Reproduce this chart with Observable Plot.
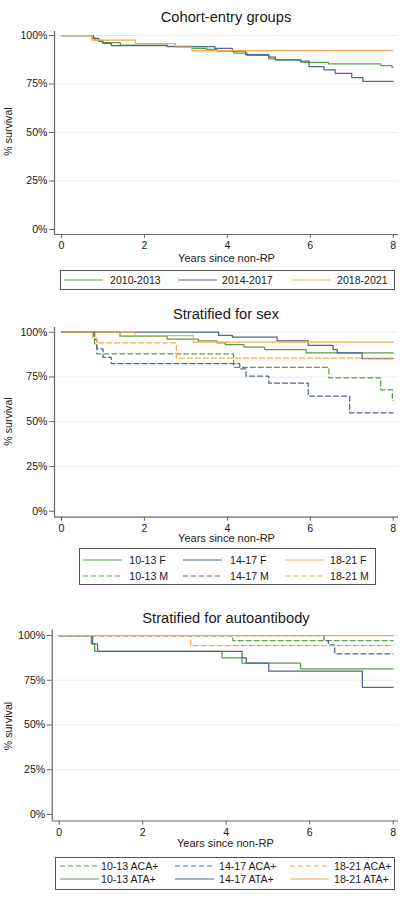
<!DOCTYPE html>
<html>
<head>
<meta charset="utf-8">
<script src="https://cdn.jsdelivr.net/npm/d3@7"></script>
<script src="https://cdn.jsdelivr.net/npm/@observablehq/plot@0.6"></script>
<style>
  html, body { margin: 0; padding: 0; background: #fff; }
  #root { position: relative; width: 412px; height: 901px; overflow: hidden; font-family: "Liberation Sans", Arial, sans-serif; color: #1a1a1a; }
  .title { position: absolute; left: 40px; width: 372px; text-align: center; font-size: 14.7px; line-height: 17px; white-space: nowrap; }
  .legbox { position: absolute; border: 1px solid #555; box-sizing: border-box; }
  .legtxt { position: absolute; font-size: 10.6px; line-height: 12px; white-space: nowrap; }
  .legsvg { position: absolute; overflow: visible; }
  svg.plot { position: absolute; left: 0; }
</style>
</head>
<body>
<div id="root"></div>
<script>
// ---------- Data ----------
const titles = ["Cohort-entry groups", "Stratified for sex", "Stratified for autoantibody"];
const xTicks = [0, 2, 4, 6, 8];
const yTicks = [0, 25, 50, 75, 100];
const xTitle = "Years since non-RP";
const yTitle = "% survival";

// Panel 1: cohort-entry groups
const cohortLabels = ["2010-2013", "2014-2017", "2018-2021"];
const c1013T = [0, 0.74, 0.8, 1.0, 1.42, 2.55, 3.15, 3.5, 3.75, 4.16, 4.48, 5.0, 5.16, 5.77, 6.44, 7.7, 7.97, 8];
const c1013S = [100, 98.8, 97.5, 96.3, 95.0, 94.4, 93.4, 92.8, 91.9, 90.9, 89.7, 88.0, 87.5, 86.2, 85.4, 84.5, 83.7, 83.7];
const c1417T = [0, 0.77, 0.9, 1.0, 1.2, 2.55, 3.7, 4.12, 4.44, 5.0, 5.16, 5.77, 5.97, 6.33, 6.6, 7.0, 7.27, 8];
const c1417S = [100, 98.5, 97.0, 96.0, 94.8, 94.3, 93.3, 91.9, 90.2, 88.8, 87.5, 86.8, 84.0, 82.3, 80.5, 78.3, 76.4, 76.4];
const c1821T = [0, 0.74, 1.78, 2.75, 3.15, 8];
const c1821S = [100, 97.6, 95.8, 94.0, 92.2, 92.2];

// Panel 2: stratified for sex
const sexLabels = ["10-13 F", "14-17 F", "18-21 F", "10-13 M", "14-17 M", "18-21 M"];
const f1013T = [0, 1.41, 2.55, 3.3, 3.75, 3.95, 4.4, 4.9, 5.9, 8];
const f1013S = [100, 97.8, 96.2, 95.2, 94.0, 93.0, 91.6, 90.3, 88.4, 88.4];
const f1417T = [0, 3.79, 4.12, 5.2, 5.95, 6.55, 6.65, 7.25, 8];
const f1417S = [100, 98.2, 97.2, 95.2, 92.6, 90.3, 88.4, 85.3, 85.3];
const f1821T = [0, 1.77, 3.18, 8];
const f1821S = [100, 98.1, 94.4, 94.4];
const m1013T = [0, 0.8, 0.85, 4.15, 6.45, 7.7, 7.98, 8];
const m1013S = [100, 93, 87.9, 80.4, 74.5, 67.8, 61.8, 61.8];
const m1417T = [0, 0.78, 0.85, 1.0, 1.2, 4.3, 4.45, 5.0, 5.95, 6.95, 8];
const m1417S = [100, 96, 90.7, 86, 82.4, 79.5, 75.5, 71.5, 64.3, 55.0, 55.0];
const m1821T = [0, 0.75, 0.85, 2.77, 8];
const m1821S = [100, 96.5, 94, 85.5, 85.5];

// Panel 3: stratified for autoantibody
const abLabels = ["10-13 ACA+", "14-17 ACA+", "18-21 ACA+", "10-13 ATA+", "14-17 ATA+", "18-21 ATA+"];
const aca1013T = [0, 4.16, 8];
const aca1013S = [100, 97.2, 97.2];
const aca1417T = [0, 6.34, 6.45, 6.6, 8];
const aca1417S = [100, 97.2, 94.8, 89.8, 89.8];
const aca1821T = [0, 3.15, 8];
const aca1821S = [100, 94.4, 94.4];
const ata1013T = [0, 0.77, 0.85, 3.9, 4.38, 5.78, 8];
const ata1013S = [100, 95.3, 91.1, 87.5, 84.5, 81.4, 81.4];
const ata1417T = [0, 0.8, 0.92, 4.38, 4.48, 5.02, 7.26, 8];
const ata1417S = [100, 95.3, 91.1, 87.5, 84.5, 80.1, 71.0, 71.0];
const ata1821T = [0, 8];
const ata1821S = [100, 100];

// ---------- Styling ----------
const GREEN = "#5a9e4e", BLUE = "#4e6986", ORANGE = "#efac52";
const DASH = "5,3";
const FONT = '"Liberation Sans", Arial, sans-serif';
const AXIS = "#666";

const rows = (T, S) => T.map((t, i) => ({t, s: S[i]}));

const panels = [
  {
    title: titles[0], titleY: 17,
    geo: {svgTop: 25, h: 240, x0: 61, x8: 392.7, y100: 35, y0: 229, left: 54, right: 398, bottom: 234, top: 31, xLabelY: 258, yLabelY: 131},
    series: [
      {label: cohortLabels[0], T: c1013T, S: c1013S, color: GREEN, dash: null},
      {label: cohortLabels[1], T: c1417T, S: c1417S, color: BLUE, dash: null},
      {label: cohortLabels[2], T: c1821T, S: c1821S, color: ORANGE, dash: null}
    ],
    legend: {box: [60, 270, 335, 20], cols: [[64, 110], [178, 222], [292, 337]], rowsY: [280], order: [[0,0],[1,0],[2,0]]}
  },
  {
    title: titles[1], titleY: 314,
    geo: {svgTop: 322, h: 222, x0: 61, x8: 392.7, y100: 331.7, y0: 510.7, left: 54, right: 398, bottom: 516.7, top: 327, xLabelY: 538.3, yLabelY: 421},
    series: [
      {label: sexLabels[0], T: f1013T, S: f1013S, color: GREEN, dash: null},
      {label: sexLabels[1], T: f1417T, S: f1417S, color: BLUE, dash: null},
      {label: sexLabels[2], T: f1821T, S: f1821S, color: ORANGE, dash: null},
      {label: sexLabels[3], T: m1013T, S: m1013S, color: GREEN, dash: DASH},
      {label: sexLabels[4], T: m1417T, S: m1417S, color: BLUE, dash: DASH},
      {label: sexLabels[5], T: m1821T, S: m1821S, color: ORANGE, dash: DASH}
    ],
    legend: {box: [79, 548, 297, 37], cols: [[83.3, 129.3], [183.3, 230], [285, 330]], rowsY: [560, 576], order: [[0,0],[1,0],[2,0],[0,1],[1,1],[2,1]]}
  },
  {
    title: titles[2], titleY: 618,
    geo: {svgTop: 626, h: 226, x0: 58.7, x8: 392.7, y100: 635, y0: 814, left: 51.7, right: 398, bottom: 820.5, top: 629.5, xLabelY: 842.7, yLabelY: 725.5},
    series: [
      {label: abLabels[0], T: aca1013T, S: aca1013S, color: GREEN, dash: DASH},
      {label: abLabels[1], T: aca1417T, S: aca1417S, color: BLUE, dash: DASH},
      {label: abLabels[2], T: aca1821T, S: aca1821S, color: ORANGE, dash: DASH},
      {label: abLabels[3], T: ata1013T, S: ata1013S, color: GREEN, dash: null},
      {label: abLabels[4], T: ata1417T, S: ata1417S, color: BLUE, dash: null},
      {label: abLabels[5], T: ata1821T, S: ata1821S, color: ORANGE, dash: null}
    ],
    legend: {box: [55, 857, 340, 33], cols: [[60, 101], [175, 219], [290, 334]], rowsY: [865.7, 879.3], order: [[0,0],[1,0],[2,0],[0,1],[1,1],[2,1]]}
  }
];

const root = document.getElementById("root");

for (const p of panels) {
  // Title
  const t = document.createElement("div");
  t.className = "title";
  t.style.top = (p.titleY - 8.5) + "px";
  t.textContent = p.title;
  root.appendChild(t);

  // Plot
  const g = p.geo;
  const pxX = (g.x8 - g.x0) / 8, pxY = (g.y0 - g.y100) / 100;
  const xmin = (g.left - g.x0) / pxX, xmax = (g.right - g.x0) / pxX;
  const ymin = -(g.bottom - g.y0) / pxY, ymax = (g.y0 - g.top) / pxY;
  const frameMidY = (g.top + g.bottom) / 2;

  const lineMarks = p.series.map(s => Plot.line(rows(s.T, s.S), {
    x: "t", y: "s", curve: "step-after", stroke: s.color, strokeWidth: 1.25,
    strokeDasharray: s.dash || undefined
  }));

  const chart = Plot.plot({
    width: 412, height: g.h,
    marginLeft: g.left, marginRight: 412 - g.right,
    marginTop: g.top - g.svgTop, marginBottom: g.svgTop + g.h - g.bottom,
    x: {domain: [xmin, xmax]},
    y: {domain: [ymin, ymax]},
    style: {fontFamily: FONT, fontSize: "10.6px", color: "#1a1a1a", background: "transparent", overflow: "visible"},
    marks: [
      Plot.ruleY(yTicks.filter(d => d > 0), {stroke: "#ebebeb", strokeWidth: 1}),
      Plot.ruleX([xmin], {stroke: AXIS, strokeWidth: 1.2}),
      Plot.ruleY([ymin], {stroke: AXIS, strokeWidth: 1.2}),
      Plot.axisY({ticks: yTicks, tickFormat: d => d + "%", tickSize: 5, tickPadding: 2, label: null, stroke: AXIS}),
      Plot.axisX({ticks: xTicks, tickSize: 4, tickPadding: 3, label: null, stroke: AXIS}),
      Plot.text([yTitle], {frameAnchor: "left", dx: 8.5 - g.left, dy: g.yLabelY - frameMidY, rotate: -90, textAnchor: "middle", lineAnchor: "middle", fontSize: 10.6, fill: "#1a1a1a"}),
      Plot.text([xTitle], {frameAnchor: "bottom", dy: g.xLabelY - g.bottom, textAnchor: "middle", lineAnchor: "middle", fontSize: 11, fill: "#1a1a1a"}),
      ...lineMarks
    ]
  });
  chart.classList.add("plot");
  chart.style.top = g.svgTop + "px";
  root.appendChild(chart);

  // Legend
  const L = p.legend;
  const box = document.createElement("div");
  box.className = "legbox";
  box.style.left = L.box[0] + "px"; box.style.top = L.box[1] + "px";
  box.style.width = L.box[2] + "px"; box.style.height = L.box[3] + "px";
  root.appendChild(box);
  p.series.forEach((s, i) => {
    const [c, r] = L.order[i];
    const [sx, tx] = L.cols[c];
    const cy = L.rowsY[r];
    const svgNS = "http://www.w3.org/2000/svg";
    const sv = document.createElementNS(svgNS, "svg");
    sv.setAttribute("class", "legsvg");
    sv.setAttribute("width", 40); sv.setAttribute("height", 4);
    sv.style.left = sx + "px"; sv.style.top = (cy - 2) + "px";
    const ln = document.createElementNS(svgNS, "line");
    ln.setAttribute("x1", 0); ln.setAttribute("x2", 39); ln.setAttribute("y1", 2); ln.setAttribute("y2", 2);
    ln.setAttribute("stroke", s.color); ln.setAttribute("stroke-width", 1.2);
    if (s.dash) ln.setAttribute("stroke-dasharray", s.dash);
    sv.appendChild(ln);
    root.appendChild(sv);
    const tx_ = document.createElement("div");
    tx_.className = "legtxt";
    tx_.style.left = tx + "px"; tx_.style.top = (cy - 6) + "px";
    tx_.textContent = s.label;
    root.appendChild(tx_);
  });
}
</script>
</body>
</html>
